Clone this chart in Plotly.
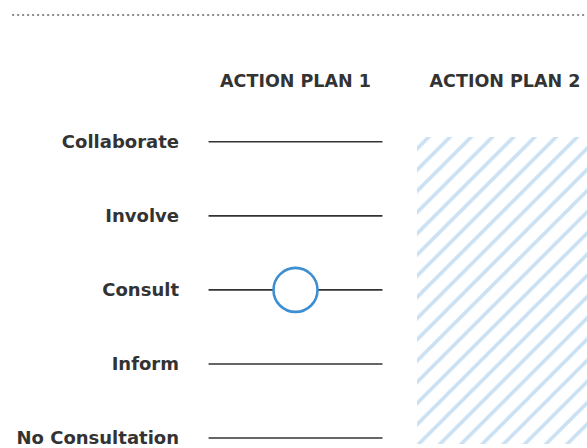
import plotly.graph_objects as go

# categories and values
levels = ['No Consultation', 'Inform', 'Consult', 'Involve', 'Collaborate']
plans = ['ACTION PLAN 1', 'ACTION PLAN 2']
plan1_level = 'Consult'          # level reached by plan 1
plan2_range = [0, 4]             # plan 2: hatched, level not assessed

half_w = 0.415
lvl_idx = list(range(len(levels)))

fig = go.Figure()

# horizontal guide line for every level in plan 1 column
for i in lvl_idx:
    fig.add_trace(go.Scatter(x=[0 - half_w, 0 + half_w], y=[i, i], mode='lines',
                             line=dict(color='#333333', width=1.6),
                             hoverinfo='skip', showlegend=False))

# hatched column for plan 2
fig.add_trace(go.Bar(x=[1], y=[plan2_range[1] - plan2_range[0] + 0.067 + 1],
                     base=[plan2_range[0] - 1], width=2 * half_w + 0.01,
                     marker=dict(color='white', line=dict(width=0),
                                 pattern=dict(shape='/', fgcolor='#96c2e8', bgcolor='white',
                                              size=15, solidity=0.24)),
                     hoverinfo='skip', showlegend=False))

# plan 1 marker
fig.add_trace(go.Scatter(x=[0], y=[levels.index(plan1_level)], mode='markers',
                         marker=dict(size=44, color='white', symbol='circle',
                                     line=dict(color='#3d8fd1', width=2.6)),
                         hoverinfo='skip', showlegend=False))

# dotted separator on top
fig.add_shape(type='line', xref='paper', yref='paper', x0=-0.448, x1=1.05, y0=1.2471, y1=1.2471,
              line=dict(color='#8c8c8c', width=2, dash='2px,3px'))

fig.update_layout(
    width=587, height=448,
    margin=dict(l=190, r=0, t=100, b=0),
    plot_bgcolor='white', paper_bgcolor='white',
    font=dict(family='DejaVu Sans', color='#333333'),
    xaxis=dict(range=[-0.5036, 1.3914], tickvals=[0, 1], ticktext=plans, side='top',
               showgrid=False, zeroline=False, showline=False, ticks='',
               tickfont=dict(size=17.5, weight='bold'), ticklabelstandoff=9),
    yaxis=dict(range=[-0.0805, 4.5638], tickvals=lvl_idx, ticktext=levels,
               showgrid=False, zeroline=False, showline=False, ticks='',
               tickfont=dict(size=18, weight='bold'), ticklabelstandoff=10,
               ticklabeloverflow='allow'),
    bargap=0,
)

# page without the default body margin so the chart fills the window
fig.write_html('out.html', config={'displayModeBar': False},
               post_script="document.body.style.margin='0';")
